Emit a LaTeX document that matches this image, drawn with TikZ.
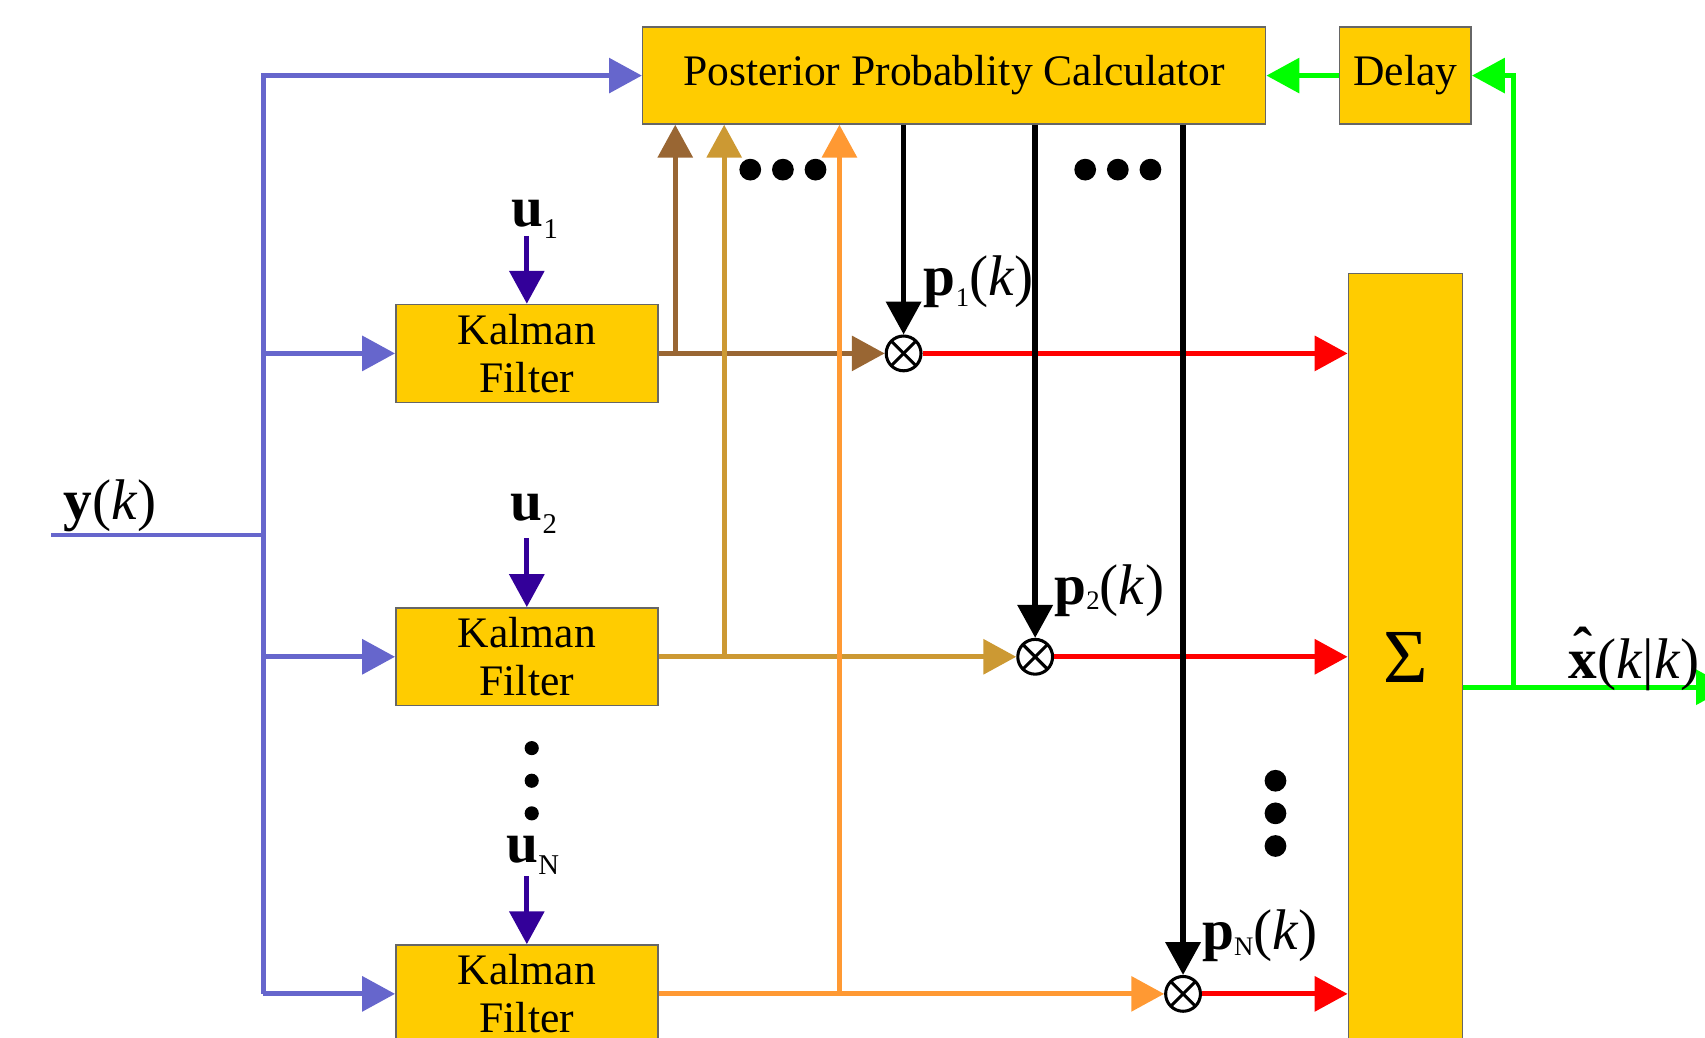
\documentclass[tikz,border=0pt]{standalone}
\usepackage{fontspec}
\setmainfont{Liberation Serif}
\usetikzlibrary{arrows.meta}
\definecolor{kfill}{HTML}{FFCC00}
\definecolor{busblue}{HTML}{6666CC}
\definecolor{uind}{HTML}{330099}
\definecolor{brn}{HTML}{996633}
\definecolor{tanc}{HTML}{CC9933}
\definecolor{org}{HTML}{FF9933}
\definecolor{grn}{HTML}{00FF00}
\newcommand\sbs[2]{\raisebox{-#1}{\fontsize{7}{7}\selectfont #2}}
\newcommand\usbs[1]{\raisebox{-3.2pt}{\fontsize{7.5}{7.5}\selectfont #1}}
\begin{document}
\begin{tikzpicture}[x=0.1mm,y=-0.1mm,
  box/.style={draw=black!60, line width=0.4pt, fill=kfill, inner sep=0pt,
    font=\fontsize{11.4}{12.5}\selectfont, align=center},
  wire/.style={line width=1.3pt},
  bwire/.style={line width=1.45pt},
  tip/.style={-{Triangle[length=8.6pt,width=9pt]}},
  mult/.style={circle, draw, fill=white, line width=0.8pt, minimum size=3.2mm, inner sep=0pt,
    path picture={
      \draw[line width=0.8pt] ([shift={(45:1.6mm)}]path picture bounding box.center) -- ([shift={(225:1.6mm)}]path picture bounding box.center);
      \draw[line width=0.8pt] ([shift={(135:1.6mm)}]path picture bounding box.center) -- ([shift={(315:1.6mm)}]path picture bounding box.center);}},
  lbl/.style={inner sep=0pt, anchor=base west, font=\fontsize{15}{15}\selectfont}]
\useasboundingbox (0,0) rectangle (1568,954);

% boxes
\node[box, minimum width=57.3mm, minimum height=8.9mm] (ppc) at (877.5,69.5) {Posterior Probablity Calculator};
\node[box, minimum width=12.1mm, minimum height=8.9mm] (delay) at (1292.5,69.5) {Delay};
\node[box, minimum width=24.1mm, minimum height=9mm] (kf1) at (484.5,325) {Kalman\\Filter};
\node[box, minimum width=24.1mm, minimum height=9mm] (kf2) at (484.5,604) {Kalman\\Filter};
\node[box, minimum width=24.1mm, minimum height=9mm] (kf3) at (484.5,914) {Kalman\\Filter};
\node[box, minimum width=10.5mm, minimum height=80mm, anchor=north] (sum) at (1292.5,251) {};
\node[inner sep=0pt, font=\fontsize{20}{20}\selectfont] (sigma) at (1292.5,605) {Σ};

% multipliers
\node[mult] (m1) at (831,325) {};
\node[mult] (m2) at (952,604) {};
\node[mult] (m3) at (1088,914) {};

% input bus
\coordinate (yin) at (47,492);
\coordinate (bus) at (242,492);
\node[lbl] (ylab) at (58,478) {\textbf{y}(\textit{k})};
\draw[wire,busblue] (yin) -- (bus);
\draw[wire,busblue,tip] (kf3.west -| bus) -- (ppc.west -| bus) -- (ppc.west);
\foreach \k in {kf1,kf2,kf3} \draw[wire,busblue,tip] (\k.west -| bus) -- (\k.west);

% control inputs
\node[lbl] (u1) at (470,208) {\textbf{u}\usbs{1}};
\node[lbl] (u2) at (469,479) {\textbf{u}\usbs{2}};
\node[lbl] (uN) at (465,793) {\textbf{u}\usbs{N}};
\coordinate (u1t) at (484.5,217);
\coordinate (u2t) at (484.5,495);
\coordinate (uNt) at (484.5,806);
\draw[wire,uind,tip] (u1t) -- (kf1.north);
\draw[wire,uind,tip] (u2t) -- (kf2.north);
\draw[wire,uind,tip] (uNt) -- (kf3.north);
\fill (489,688) circle (0.65mm) (489,718) circle (0.65mm) (489,748) circle (0.65mm);

% filter outputs
\coordinate (b1) at (621,325);
\coordinate (b2) at (666,604);
\coordinate (b3) at (772,914);
\draw[wire,brn,tip] (kf1.east) -- (m1.west);
\draw[wire,brn,tip] (b1) -- (b1 |- ppc.south);
\draw[wire,tanc,tip] (kf2.east) -- (m2.west);
\draw[wire,tanc,tip] (b2) -- (b2 |- ppc.south);
\draw[wire,org,tip] (kf3.east) -- (m3.west);
\draw[wire,org,tip] (b3) -- (b3 |- ppc.south);

% weighted outputs
\draw[wire,red,tip] (m1.east) -- (m1.east -| sum.west);
\draw[wire,red,tip] (m2.east) -- (m2.east -| sum.west);
\draw[wire,red,tip] (m3.east) -- (m3.east -| sum.west);

% probabilities
\draw[bwire,tip] (m1.north |- ppc.south) -- (m1.north);
\draw[bwire,tip] (m2.north |- ppc.south) -- (m2.north);
\draw[bwire,tip] (m3.north |- ppc.south) -- (m3.north);
\node[lbl] (p1) at (849,272) {\textbf{p}\sbs{2.8pt}{1}(\textit{k})};
\node[lbl] (p2) at (969,556) {\textbf{p}\sbs{1.2pt}{2}(\textit{k})};
\node[lbl] (pN) at (1105,873) {\textbf{p}\sbs{1.5pt}{N}(\textit{k})};

% dots
\fill (690,156) circle (1mm) (720,156) circle (1mm) (750,156) circle (1mm);
\fill (998,156) circle (1mm) (1028,156) circle (1mm) (1058,156) circle (1mm);
\fill (1173,718) circle (1mm) (1173,748) circle (1mm) (1173,778) circle (1mm);

% output and feedback
\coordinate (gb) at (1392,632);
\coordinate (xout) at (1590,632);
\draw[wire,grn,tip] (sum.east |- gb) -- (xout);
\draw[wire,grn,tip] (gb) -- (gb |- delay.east) -- (delay.east);
\draw[wire,grn,tip] (delay.west) -- (ppc.east);
\node[lbl] (xhat) at (1442,624) {\ooalign{\textbf{x}\cr\hidewidth\raisebox{0.2em}{\textbf{ˆ}}\hidewidth\cr}(\textit{k}|\textit{k})};
\end{tikzpicture}
\end{document}
